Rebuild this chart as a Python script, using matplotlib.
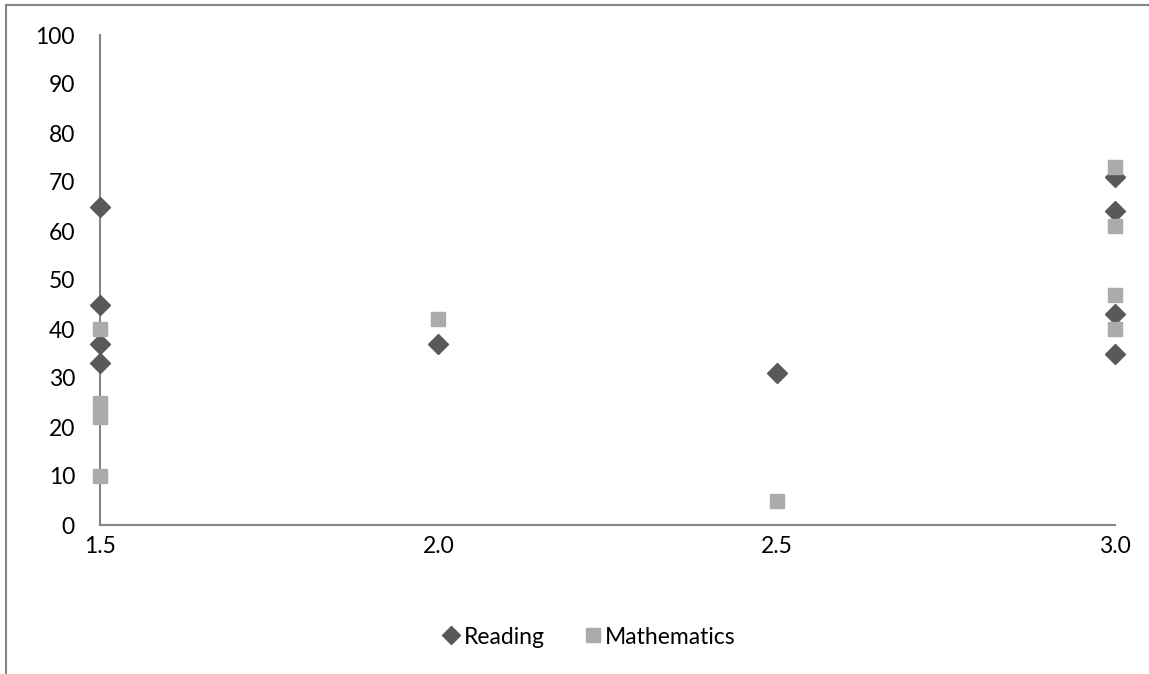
import matplotlib
matplotlib.use("Agg")
import matplotlib.pyplot as plt
from matplotlib.lines import Line2D

plt.rcParams['font.family'] = ['Lato', 'DejaVu Sans']

reading_x = [1.5, 1.5, 1.5, 1.5, 2.0, 2.5, 3.0, 3.0, 3.0, 3.0]
reading_y = [65, 45, 37, 33, 37, 31, 71, 64, 43, 35]
math_x = [1.5, 1.5, 1.5, 1.5, 2.0, 2.5, 3.0, 3.0, 3.0, 3.0]
math_y = [40, 25, 22, 10, 42, 5, 73, 61, 47, 40]
x_ticks = [1.5, 2.0, 2.5, 3.0]
y_ticks = list(range(0, 101, 10))

W, H = 1149, 674
fig = plt.figure(figsize=(W / 100, H / 100), dpi=100)
ax = fig.add_axes([100 / W, 149 / H, 1015 / W, 490 / H])

read_col = '#595959'
math_col = '#ababab'
axis_col = '#868686'
fs = 16.5

ax.plot(reading_x, reading_y, linestyle='none', marker='D', markersize=10,
        color=read_col, markeredgecolor=read_col, label='Reading', zorder=3,
        clip_on=False)
ax.plot(math_x, math_y, linestyle='none', marker='s', markersize=10.5,
        color=math_col, markeredgecolor=math_col, label='Mathematics', zorder=4,
        clip_on=False)

ax.set_xlim(1.5, 3.0)
ax.set_ylim(0, 100)
ax.set_xticks(x_ticks)
ax.set_xticklabels([f"{v:.1f}" for v in x_ticks])
ax.set_yticks(y_ticks)
for s in ['top', 'right']:
    ax.spines[s].set_visible(False)
for s in ['left', 'bottom']:
    ax.spines[s].set_color(axis_col)
    ax.spines[s].set_linewidth(1.5)
    ax.spines[s].set_zorder(1)
ax.tick_params(axis='both', length=0, labelsize=fs, colors='black')
ax.tick_params(axis='y', pad=18)
ax.tick_params(axis='x', pad=8)

handles = [
    Line2D([], [], linestyle='none', marker='D', markersize=9, color=read_col),
    Line2D([], [], linestyle='none', marker='s', markersize=10, color=math_col),
]
fig.legend(handles, ['Reading', 'Mathematics'], loc='center',
           bbox_to_anchor=(590 / W, 1 - 637 / H), ncol=2, frameon=False,
           fontsize=fs, handlelength=0.6, handletextpad=0.25, columnspacing=1.8)

# outer chart border (partially cropped)
fig.add_artist(Line2D([6 / W, 6 / W], [0, 1 - 5 / H], transform=fig.transFigure,
                      color=axis_col, linewidth=1.5))
fig.add_artist(Line2D([6 / W, 1], [1 - 5 / H, 1 - 5 / H], transform=fig.transFigure,
                      color=axis_col, linewidth=1.5))

fig.savefig('out.png', dpi=100)
